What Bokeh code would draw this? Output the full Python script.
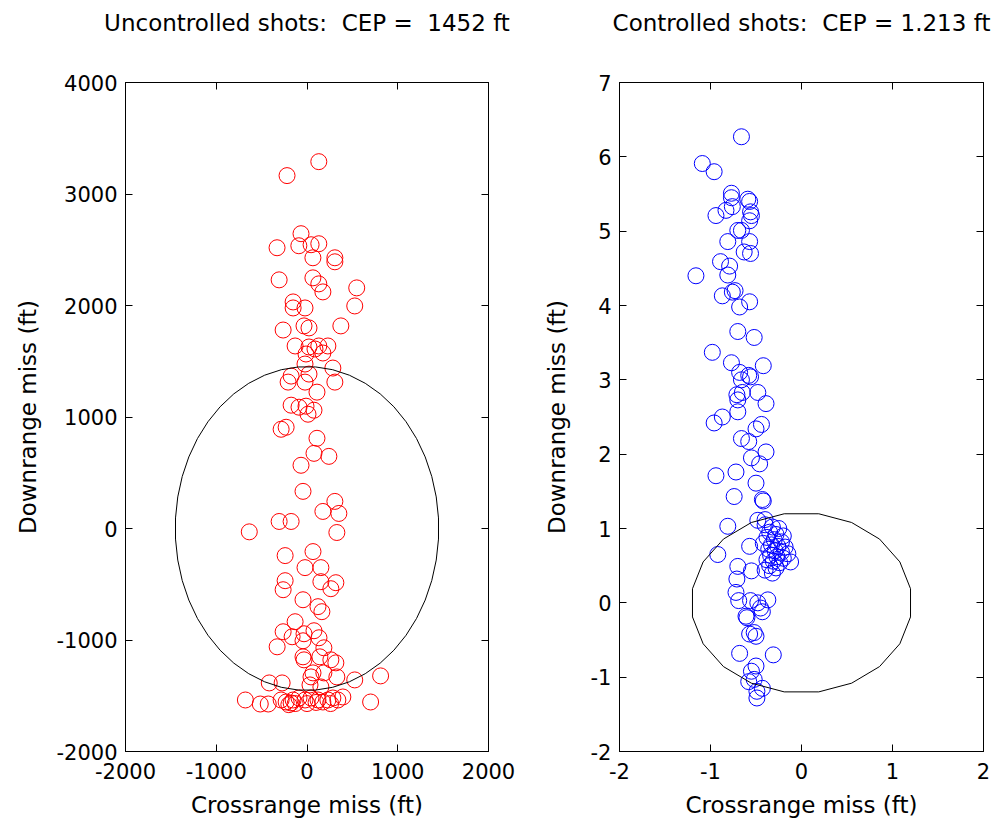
import numpy as np
from bokeh.plotting import figure
from bokeh.layouts import row
from bokeh.models import LinearAxis, FixedTicker
from bokeh.embed import file_html
from bokeh.resources import INLINE

# ---- uncontrolled shots (ft) ----
unc_x = [130, -220, -66, -330, -90, 45, 130, 65, 307, 307,
         -307, 65, 130, 175, 548, 526, -153, -153, -22, -263,
         -33, 22, 373, -131, 22, 130, 230, 175, -11, 88,
         -22, 285, 22, -175, -208, -22, 307, 110, -175, -88,
         -11, 77, 11, -285, -230, 110, 77, 241, -66, -44,
         307, 175, 351, -307, -175, -636, 329, -241, 66, -22,
         153, 153, 318, 263, -241, -263, -44, 121, 164, -131,
         -263, -164, -33, 77, 132, -44, -329, 186, -44, -33,
         142, 263, 318, 66, 44, 186, 329, 526, 811, -416,
         -274, 33, 153, -679, -515, -427, -285, -230, -175, -153,
         -88, -22, 44, 121, 175, 230, 285, 340, 395, 701,
         -200, -130, 100, 0, 260]
unc_y = [3290, 3165, 2644, 2518, 2536, 2545, 2554, 2428, 2428, 2392,
         2230, 2248, 2194, 2122, 2158, 1996, 2032, 1978, 1978, 1780,
         1817, 1799, 1817, 1637, 1628, 1637, 1637, 1574, 1565, 1610,
         1475, 1439, 1385, 1367, 1313, 1313, 1313, 1223, 1106, 1088,
         1097, 1061, 1025, 890, 908, 809, 674, 647, 567, 333,
         243, 153, 135, 63, 63, -30, -36, -243, -207, -351,
         -351, -477, -486, -540, -468, -549, -639, -701, -746, -836,
         -926, -971, -944, -917, -980, -1007, -1061, -1070, -1151, -1178,
         -1151, -1178, -1205, -1295, -1331, -1295, -1331, -1358, -1322, -1385,
         -1385, -1403, -1421, -1538, -1574, -1574, -1538, -1556, -1565, -1538,
         -1520, -1538, -1520, -1538, -1556, -1538, -1520, -1538, -1511, -1556,
         -1580, -1570, -1560, -1570, -1570]
unc_cep = 1452

# ---- controlled shots (ft) ----
ctl_x = [-0.66, -1.09, -0.96, -0.77, -0.77, -0.59, -0.57, -0.83, -0.94, -0.76,
         -0.56, -0.55, -0.57, -0.70, -0.66, -0.81, -0.57, -0.63, -0.56, -0.89,
         -0.79, -0.81, -1.16, -0.73, -0.87, -0.76, -0.57, -0.68,
         -0.70, -0.52, -0.98, -0.77, -0.42, -0.68, -0.58, -0.56, -0.66, -0.71,
         -0.65, -0.48, -0.39, -0.70, -0.70, -0.87, -0.96, -0.44, -0.50, -0.66,
         -0.58, -0.39, -0.55, -0.46, -0.94, -0.72, -0.50, -0.74, -0.43, -0.42,
         -0.81, -0.48, -0.40, -0.92, -0.57, -0.70, -0.71, -0.55, -0.72, -0.69,
         -0.56, -0.37, -0.45, -0.48, -0.60, -0.61, -0.43, -0.57, -0.52, -0.50,
         -0.68, -0.31, -0.50, -0.55, -0.58, -0.52, -0.43, -0.49, -0.49,
         -0.40, -0.32, -0.25, -0.35, -0.28, -0.20, -0.38, -0.30, -0.22, -0.33,
         -0.26, -0.18, -0.36, -0.29, -0.22, -0.15, -0.34, -0.27, -0.20, -0.38,
         -0.31, -0.24, -0.35, -0.28, -0.40, -0.32, -0.12, -0.42]
ctl_y = [6.27, 5.91, 5.80, 5.51, 5.45, 5.43, 5.40, 5.28, 5.21, 5.33,
         5.26, 5.21, 5.14, 5.01, 5.01, 4.86, 4.86, 4.72, 4.70, 4.59,
         4.53, 4.41, 4.40, 4.20, 4.13, 4.18, 4.05, 3.98,
         3.65, 3.57, 3.37, 3.23, 3.19, 3.10, 3.06, 3.04, 3.00, 2.80,
         2.83, 2.83, 2.68, 2.73, 2.57, 2.50, 2.42, 2.40, 2.34, 2.21,
         2.17, 2.03, 1.95, 1.87, 1.71, 1.76, 1.61, 1.43, 1.39, 1.37,
         1.03, 1.11, 1.12, 0.65, 0.76, 0.49, 0.32, 0.43, 0.14, 0.03,
         0.03, 0.04, -0.07, 0.00, -0.20, -0.18, -0.12, -0.42, -0.40, -0.45,
         -0.68, -0.70, -0.85, -0.92, -1.06, -1.03, -1.15, -1.19, -1.28,
         1.05, 1.02, 1.00, 0.95, 0.92, 0.90, 0.88, 0.85, 0.82, 0.78,
         0.76, 0.75, 0.72, 0.70, 0.68, 0.66, 0.64, 0.62, 0.60, 0.58,
         0.56, 0.54, 0.50, 0.47, 0.44, 0.40, 0.55, 0.80]
ctl_cep = 1.213

unc_xticks = [-2000, -1000, 0, 1000, 2000]
unc_yticks = [-2000, -1000, 0, 1000, 2000, 3000, 4000]
ctl_xticks = [-2, -1, 0, 1, 2]
ctl_yticks = [-2, -1, 0, 1, 2, 3, 4, 5, 6, 7]

FONT = "DejaVu Sans"
TICK_SIZE = "21px"
LABEL_SIZE = "23px"
NBSP = "\u00a0"


def cep_ring(r, n):
    """Closed polygon of radius r about the aim point."""
    t = (np.arange(n + 1) + 0.5) * 2 * np.pi / n
    return r * np.cos(t), r * np.sin(t)


def style_axis(ax, ticks, show_labels, label_standoff=10, tick_standoff=8):
    ax.ticker = FixedTicker(ticks=ticks)
    ax.major_tick_in = 7
    ax.major_tick_out = 0
    ax.minor_tick_in = 0
    ax.minor_tick_out = 0
    ax.axis_line_color = "black"
    ax.axis_line_width = 1
    ax.major_tick_line_color = "black"
    ax.major_tick_line_width = 1
    ax.major_label_text_font = FONT
    ax.major_label_text_color = "black"
    ax.major_label_text_font_size = TICK_SIZE
    ax.axis_label_text_font = FONT
    ax.axis_label_text_font_size = LABEL_SIZE
    ax.axis_label_text_font_style = "normal"
    ax.axis_label_text_color = "black"
    ax.axis_label_standoff = label_standoff
    if show_labels:
        ax.major_label_overrides = {t: str(t) for t in ticks}
        ax.major_label_standoff = tick_standoff
    else:
        # tick marks only on the top and right edges of the box
        ax.major_label_overrides = {t: "" for t in ticks}
        ax.major_label_standoff = 0


def panel(title, xs, ys, color, cep, n_ring, xr, yr, xticks, yticks,
          width, left, right, ylab_standoff):
    p = figure(width=width, height=824, x_range=xr, y_range=yr,
               min_border_left=left, min_border_right=right,
               min_border_top=82, min_border_bottom=73,
               toolbar_location=None, output_backend="svg")
    p.grid.visible = False
    p.outline_line_color = "black"
    p.background_fill_color = "white"
    p.border_fill_color = "white"

    style_axis(p.xaxis[0], xticks, True, label_standoff=10, tick_standoff=11)
    style_axis(p.yaxis[0], yticks, True, label_standoff=ylab_standoff)
    p.xaxis[0].axis_label = "Crossrange miss (ft)"
    p.yaxis[0].axis_label = "Downrange miss (ft)"

    # top edge carries the panel heading as its label
    top = LinearAxis(axis_label=title)
    style_axis(top, xticks, False, label_standoff=47)
    p.add_layout(top, "above")
    rgt = LinearAxis()
    style_axis(rgt, yticks, False)
    p.add_layout(rgt, "right")

    p.scatter(xs, ys, marker="circle", size=16, fill_color=None,
              line_color=color, line_width=1)
    rx, ry = cep_ring(cep, n_ring)
    p.line(rx, ry, line_color="black", line_width=1)
    return p


p1 = panel(f"Uncontrolled shots:{NBSP} CEP ={NBSP} {unc_cep} ft", unc_x, unc_y,
           "red", unc_cep, 48, (-2000, 2000), (-2000, 4000),
           unc_xticks, unc_yticks, 540, 125, 52, 12)
p2 = panel(f"Controlled shots:{NBSP} CEP = {ctl_cep:.3f} ft", ctl_x, ctl_y,
           "blue", ctl_cep, 20, (-2, 2), (-2, 7),
           ctl_xticks, ctl_yticks, 453, 76, 10, 18)

layout = row(p1, p2)
open("out.html", "w").write(file_html(layout, INLINE))
